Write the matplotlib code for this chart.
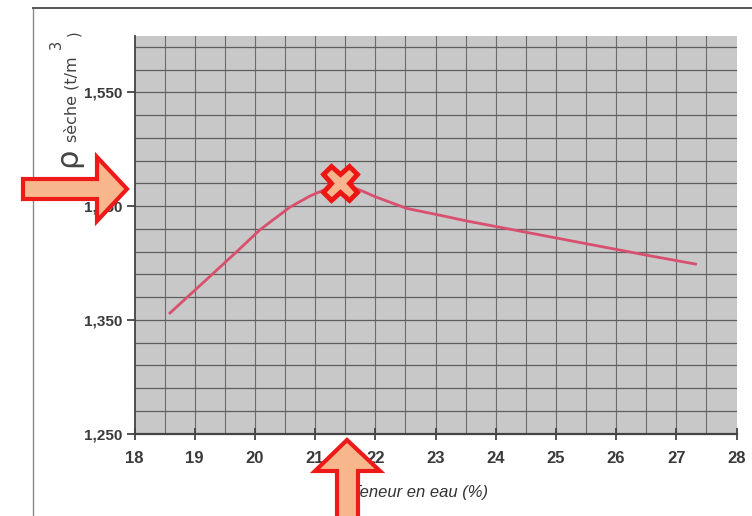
import numpy as np
import matplotlib
matplotlib.use("Agg")
import matplotlib.pyplot as plt
from matplotlib.patches import Polygon
from matplotlib.lines import Line2D

# teneur en eau (%) / masse volumique seche (t/m3)
water = [18.59, 19.25, 19.70, 20.08, 20.58, 20.92, 21.14, 21.42, 21.75,
         22.01, 22.52, 23.07, 23.51, 25.00, 26.49, 27.32]
density = [1.356, 1.388, 1.410, 1.429, 1.449, 1.459, 1.464, 1.470, 1.464,
           1.458, 1.448, 1.442, 1.437, 1.422, 1.407, 1.399]

# optimum Proctor
opt_water = 21.42
opt_density = 1.470

x_ticks = [18, 19, 20, 21, 22, 23, 24, 25, 26, 27, 28]
y_ticks = [1.250, 1.350, 1.450, 1.550]
y_labels = ['1,250', '1,350', '1,450', '1,550']

W, H = 752, 516
narrow = ['Liberation Sans Narrow', 'Liberation Sans', 'DejaVu Sans']

fig = plt.figure(figsize=(W / 100, H / 100), dpi=100)
fig.patch.set_facecolor('white')


def px(x, y):
    # pixel position (from top left) to figure fraction
    return x / W, 1 - y / H


ax = fig.add_axes([134.5 / W, 1 - 433.5 / H, 602 / W, 397.5 / H])
ax.set_facecolor('#c8c8c8')
ax.set_xlim(18, 28)
ax.set_ylim(1.25, 1.5996)

# grid of the graph paper
for gx in np.arange(18.5, 28, 0.5):
    ax.axvline(gx, color='#6c6c6c', lw=0.8, zorder=1)
for gy in np.arange(1.27, 1.595, 0.02):
    ax.axhline(gy, color='#5e5e5e', lw=0.9, zorder=1)

ax.plot(water, density, color='#d8506e', lw=2.0, zorder=3,
        solid_joinstyle='round')
ax.plot([opt_water], [opt_density], marker='X', markersize=25,
        markerfacecolor='#f8b48c', markeredgecolor='#ee1515',
        markeredgewidth=3.5, zorder=4)

for side in ['top', 'right']:
    ax.spines[side].set_visible(False)
ax.spines['left'].set_color('#444444')
ax.spines['bottom'].set_color('#444444')
ax.spines['left'].set_linewidth(1.3)
ax.spines['bottom'].set_linewidth(1.6)

ax.set_xticks(x_ticks)
ax.set_xticklabels([str(t) for t in x_ticks], family=narrow,
                   fontweight='bold', fontsize=12, color='#3a3a3a')
ax.set_yticks(y_ticks)
ax.set_yticklabels(y_labels, family=narrow, fontweight='bold',
                   fontsize=11, color='#3a3a3a')
ax.tick_params(axis='x', direction='inout', length=9, width=1.3,
               color='#444444', pad=8)
ax.tick_params(axis='y', direction='out', length=6, width=1.3,
               color='#444444', pad=3)

fig.text(*px(420, 492), 'Teneur en eau (%)', family=narrow, style='italic',
         fontsize=12, color='#333333', ha='center', va='center')

# axis title, drawn in pieces like on the sheet
fig.text(*px(68, 157), '\u03c1', fontsize=22, rotation=90, color='#444444',
         ha='center', va='center')
fig.text(*px(72, 142), 's\u00e8che (t/m', fontsize=11.5, rotation=90,
         color='#444444', ha='center', va='bottom')
fig.text(*px(56, 44), '3', fontsize=10.5, rotation=90, color='#444444',
         ha='center', va='center')
fig.text(*px(74, 33), ')', fontsize=10.5, rotation=90, color='#444444',
         ha='center', va='center')

# page border of the scan
fig.add_artist(Line2D([33 / W, 33 / W], [1 - 8 / H, 0], color='#8a8a8a',
                      lw=1.0, transform=fig.transFigure))
fig.add_artist(Line2D([33 / W, 1], [1 - 8 / H, 1 - 8 / H], color='#555555',
                      lw=1.4, transform=fig.transFigure))

# highlight arrows
arrow_face = '#f8b68c'
arrow_edge = '#ee1a1a'
left_arrow = [(23, 179), (97, 179), (97, 157), (127, 189), (97, 221),
              (97, 199), (23, 199)]
up_arrow = [(337, 520), (337, 471), (315, 471), (347, 440), (380, 471),
            (358, 471), (358, 520)]
for shape in [left_arrow, up_arrow]:
    fig.add_artist(Polygon([px(a, b) for a, b in shape], closed=True,
                           facecolor=arrow_face, edgecolor=arrow_edge,
                           lw=3, joinstyle='miter',
                           transform=fig.transFigure, zorder=10))

fig.savefig('out.png', dpi=100)
